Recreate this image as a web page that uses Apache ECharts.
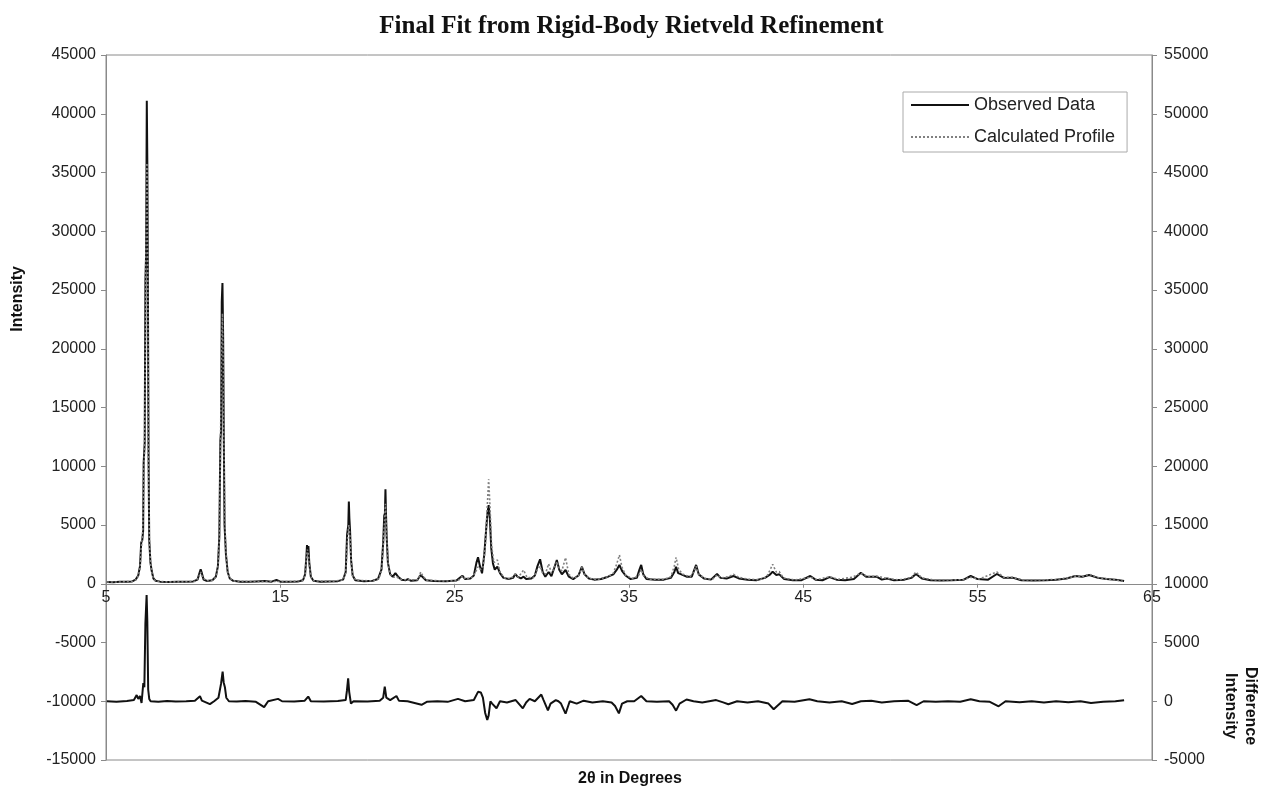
<!DOCTYPE html>
<html>
<head>
<meta charset="utf-8">
<script src="https://cdn.jsdelivr.net/npm/echarts@6/dist/echarts.min.js"></script>
<style>
html,body{margin:0;padding:0;background:#fff;}
#chart{width:1263px;height:789px;}
</style>
</head>
<body>
<div id="chart"></div>
<script>
// ---- data (2-theta in degrees, intensity) ----
var chartTitle = 'Final Fit from Rigid-Body Rietveld Refinement';
var seriesNames = ['Observed Data', 'Calculated Profile'];
var xTicks = [5, 15, 25, 35, 45, 55, 65];
var leftTicks = [-15000, 45000, 5000];
var rightTicks = [-5000, 55000, 5000];

var observed = [
[5.05,150],[5.4,130],[5.8,160],[6.2,170],[6.5,200],[6.7,350],[6.85,700],[6.95,1500],[7.02,3500],[7.08,3700],[7.13,4500],[7.16,10300],[7.22,12000],[7.26,25800],[7.3,28000],[7.34,41100],[7.37,36000],[7.4,27000],[7.44,11000],[7.48,3700],[7.55,1800],[7.62,1100],[7.72,450],[7.85,250],[8.1,180],[8.6,150],[9.1,160],[9.6,170],[10.0,200],[10.25,350],[10.38,1000],[10.43,1230],[10.5,900],[10.6,350],[10.8,230],[11.1,300],[11.3,600],[11.42,1500],[11.5,4000],[11.56,12200],[11.6,13000],[11.64,24000],[11.68,25600],[11.72,21000],[11.76,12000],[11.8,5000],[11.88,2500],[11.98,1000],[12.1,450],[12.3,250],[12.7,180],[13.2,170],[13.6,200],[14.1,230],[14.5,180],[14.78,320],[15.0,180],[15.5,170],[16.0,200],[16.3,300],[16.42,800],[16.49,2200],[16.53,3300],[16.57,2600],[16.61,3200],[16.66,1800],[16.75,600],[16.9,250],[17.3,180],[17.8,200],[18.3,220],[18.6,350],[18.75,1000],[18.83,4200],[18.9,5000],[18.93,6990],[18.96,5600],[19.0,4500],[19.06,2000],[19.15,700],[19.3,300],[19.8,220],[20.3,250],[20.6,400],[20.8,1200],[20.9,3500],[20.96,5800],[21.0,6000],[21.03,8040],[21.06,6000],[21.1,4000],[21.17,1800],[21.3,800],[21.45,600],[21.6,900],[21.66,1030],[21.75,600],[21.95,350],[22.2,300],[22.32,400],[22.5,250],[22.85,300],[23.05,745],[23.15,650],[23.35,300],[23.8,230],[24.5,220],[25.1,280],[25.44,685],[25.6,400],[25.9,450],[26.1,700],[26.25,1800],[26.34,2250],[26.45,1500],[26.57,890],[26.7,2500],[26.8,4500],[26.88,6000],[26.95,6700],[27.02,5500],[27.1,3000],[27.2,1700],[27.3,1200],[27.45,1450],[27.6,900],[27.8,500],[28.1,400],[28.35,500],[28.48,830],[28.6,600],[28.8,450],[28.95,600],[29.1,400],[29.4,450],[29.6,700],[29.75,1500],[29.9,2080],[30.05,1000],[30.2,600],[30.39,1000],[30.55,650],[30.7,1300],[30.86,2020],[31.0,1200],[31.15,800],[31.36,1170],[31.55,600],[31.8,400],[32.1,700],[32.3,1450],[32.45,800],[32.7,450],[33.0,350],[33.4,400],[33.8,600],[34.1,800],[34.3,1200],[34.45,1600],[34.6,1100],[34.8,700],[35.1,400],[35.45,500],[35.6,1200],[35.7,1600],[35.82,800],[36.0,400],[36.5,350],[37.0,350],[37.4,500],[37.6,1000],[37.7,1450],[37.82,900],[38.0,800],[38.3,600],[38.6,600],[38.75,1200],[38.85,1600],[39.0,800],[39.3,450],[39.7,350],[40.05,830],[40.25,500],[40.6,450],[41.0,660],[41.3,450],[41.8,350],[42.3,300],[42.8,500],[43.1,800],[43.24,1030],[43.45,750],[43.62,800],[43.9,400],[44.4,300],[44.9,300],[45.4,660],[45.7,350],[46.1,300],[46.5,560],[46.9,350],[47.4,300],[47.9,400],[48.3,940],[48.6,600],[49.2,600],[49.5,350],[49.8,450],[50.2,300],[50.8,350],[51.2,500],[51.46,830],[51.8,450],[52.3,300],[52.9,280],[53.5,300],[54.2,350],[54.6,660],[55.0,400],[55.6,350],[56.1,830],[56.5,500],[57.0,520],[57.5,300],[58.2,280],[58.9,300],[59.5,350],[60.1,450],[60.6,660],[61.0,600],[61.4,750],[61.9,500],[62.4,400],[62.9,350],[63.4,230]
];

var calculated = [
[5.05,150],[5.8,150],[6.5,200],[6.7,330],[6.85,650],[6.95,1300],[7.02,3000],[7.1,4200],[7.16,9000],[7.22,12000],[7.27,24000],[7.32,33000],[7.35,35800],[7.39,30000],[7.43,14000],[7.48,4000],[7.55,1800],[7.62,1000],[7.72,420],[7.85,230],[8.5,160],[9.5,160],[10.1,200],[10.3,500],[10.43,1000],[10.55,500],[10.8,250],[11.1,300],[11.3,550],[11.42,1400],[11.5,3800],[11.56,11000],[11.62,19000],[11.68,23000],[11.73,18000],[11.78,9000],[11.85,3500],[11.95,1200],[12.1,450],[12.4,220],[13.5,180],[14.5,190],[15.5,180],[16.3,280],[16.42,750],[16.5,2200],[16.55,2900],[16.6,2700],[16.66,1600],[16.76,550],[16.95,240],[18.0,210],[18.6,330],[18.75,900],[18.85,3800],[18.93,5000],[19.0,3900],[19.07,1700],[19.15,650],[19.35,280],[20.3,250],[20.65,420],[20.82,1200],[20.93,4000],[21.03,6800],[21.1,4000],[21.18,1700],[21.3,800],[21.5,550],[21.66,600],[21.85,400],[22.3,330],[22.9,350],[23.05,1000],[23.2,600],[23.4,300],[24.5,230],[25.2,260],[25.44,650],[25.65,380],[26.0,550],[26.2,1000],[26.34,1450],[26.5,1200],[26.62,1400],[26.75,3000],[26.85,6000],[26.95,8900],[27.03,6500],[27.12,3200],[27.25,1800],[27.45,2020],[27.6,1000],[27.85,500],[28.2,420],[28.48,800],[28.65,550],[28.95,1170],[29.15,550],[29.5,500],[29.75,1200],[29.9,1500],[30.05,900],[30.2,800],[30.39,1700],[30.55,900],[30.7,1300],[30.86,1900],[31.0,1300],[31.15,1100],[31.36,2220],[31.55,800],[31.8,450],[32.1,650],[32.3,1400],[32.45,800],[32.7,450],[33.2,380],[33.8,600],[34.1,900],[34.3,1700],[34.45,2450],[34.6,1400],[34.8,750],[35.2,420],[35.55,700],[35.7,1200],[35.85,650],[36.2,380],[37.0,380],[37.4,600],[37.6,1500],[37.7,2250],[37.85,1200],[38.1,800],[38.5,600],[38.75,1100],[38.85,1500],[39.0,800],[39.4,420],[39.8,400],[40.05,750],[40.3,500],[40.7,600],[41.0,800],[41.3,550],[41.8,400],[42.5,330],[42.9,600],[43.1,1200],[43.24,1650],[43.45,1000],[43.62,1030],[43.85,500],[44.5,320],[45.4,550],[45.8,350],[46.5,600],[47.0,380],[47.8,550],[48.3,900],[48.7,600],[49.2,650],[49.8,450],[50.5,330],[51.2,550],[51.46,1000],[51.8,500],[52.5,320],[53.5,320],[54.2,350],[54.6,550],[55.1,400],[56.1,1000],[56.5,550],[57.0,550],[57.6,320],[58.8,320],[59.6,380],[60.2,500],[60.6,650],[61.0,620],[61.4,800],[61.9,520],[62.6,380],[63.4,200]
];

var difference = [
[5.05,0],[5.6,-50],[6.2,30],[6.6,100],[6.76,530],[6.85,200],[6.95,450],[7.04,-150],[7.14,1550],[7.2,1200],[7.26,6630],[7.33,9040],[7.37,6800],[7.42,1000],[7.48,200],[7.56,0],[8.0,-50],[8.5,20],[9.0,-30],[9.6,0],[10.1,50],[10.39,430],[10.5,50],[10.96,-250],[11.2,0],[11.45,300],[11.6,1500],[11.69,2520],[11.75,1600],[11.82,1200],[11.9,300],[12.05,0],[12.5,-30],[13.0,20],[13.6,-50],[14.07,-500],[14.3,0],[14.87,200],[15.1,0],[15.8,-30],[16.4,50],[16.6,400],[16.75,0],[17.5,-20],[18.3,30],[18.75,100],[18.82,900],[18.89,1950],[18.95,800],[19.05,-200],[19.2,0],[20.0,-30],[20.7,50],[20.9,300],[20.99,1240],[21.08,300],[21.3,100],[21.66,450],[21.8,50],[22.3,0],[23.1,-300],[23.4,-50],[24.0,0],[24.6,-50],[25.19,200],[25.6,0],[26.1,100],[26.34,800],[26.5,750],[26.62,300],[26.75,-1000],[26.87,-1600],[26.95,-1200],[27.05,0],[27.15,-200],[27.4,-600],[27.6,0],[28.0,-100],[28.5,100],[28.91,-600],[29.1,-100],[29.3,200],[29.6,0],[29.97,570],[30.1,100],[30.35,-770],[30.5,-200],[30.8,100],[30.95,0],[31.1,-200],[31.36,-1060],[31.6,0],[32.0,-200],[32.4,50],[32.9,-100],[33.5,0],[34.0,-100],[34.2,-400],[34.42,-1030],[34.6,-200],[34.9,0],[35.3,0],[35.7,450],[36.0,0],[36.6,-50],[37.3,0],[37.5,-300],[37.7,-800],[37.9,-200],[38.3,150],[38.7,0],[39.2,-100],[39.6,0],[40.0,100],[40.4,-100],[40.7,-250],[41.2,0],[41.8,-100],[42.4,0],[43.0,-200],[43.3,-680],[43.5,-400],[43.8,0],[44.5,-50],[45.35,170],[45.8,0],[46.5,-100],[47.2,0],[47.8,-230],[48.3,0],[48.9,50],[49.5,-100],[50.2,0],[51.0,50],[51.5,-330],[51.9,0],[52.6,-50],[53.3,0],[54.0,-50],[54.6,170],[55.1,0],[55.7,-50],[56.2,-430],[56.6,0],[57.4,-80],[58.1,0],[58.8,-100],[59.5,0],[60.2,-80],[60.9,0],[61.5,-150],[62.2,-50],[62.9,0],[63.4,80]
];

var chart = echarts.init(document.getElementById('chart'), null, {renderer: 'canvas'});
var axisGray = '#8a8a8a';
var txt = '#222';
var sans = 'Liberation Sans, Arial, sans-serif';
var gridTop = 55, gridBottom = 29, H = 789;
var plotH = H - gridTop - gridBottom;
// distance from the bottom of the plot up to the left axis zero (so the x axis sits on y = 0)
var zeroOffset = plotH * (0 - leftTicks[0]) / (leftTicks[1] - leftTicks[0]);
var plain = function (v) { return String(v); };
var transparent = 'rgba(0,0,0,0)';

chart.setOption({
  animation: false,
  backgroundColor: '#fff',
  title: {
    text: chartTitle,
    left: 'center',
    top: 9,
    textStyle: {fontFamily: 'Liberation Serif, Times New Roman, serif', fontWeight: 'bold', fontSize: 25, color: '#111'}
  },
  legend: {
    data: seriesNames,
    orient: 'vertical',
    left: 903,
    top: 92,
    padding: [4, 12, 6, 7],
    itemWidth: 58,
    itemHeight: 14,
    itemGap: 14,
    backgroundColor: '#fff',
    borderColor: '#aaa',
    borderWidth: 1,
    borderRadius: 0,
    textStyle: {fontFamily: sans, fontSize: 18, color: txt}
  },
  grid: {
    left: 106, right: 111, top: gridTop, bottom: gridBottom,
    show: true, borderColor: axisGray, borderWidth: 1, backgroundColor: 'transparent'
  },
  xAxis: {
    type: 'value',
    min: xTicks[0], max: xTicks[xTicks.length - 1], interval: 10,
    position: 'bottom',
    offset: -zeroOffset,
    axisLine: {show: true, onZero: false, lineStyle: {color: axisGray, width: 1}},
    axisTick: {show: true, length: 4, lineStyle: {color: axisGray}},
    axisLabel: {fontFamily: sans, fontSize: 16, color: txt, margin: 6, showMinLabel: true, showMaxLabel: true, formatter: plain},
    splitLine: {show: false}
  },
  yAxis: [
    {
      type: 'value', position: 'left',
      min: leftTicks[0], max: leftTicks[1], interval: leftTicks[2],
      axisLine: {show: true, onZero: false, lineStyle: {color: axisGray}},
      axisTick: {show: true, length: 5, lineStyle: {color: axisGray}},
      axisLabel: {fontFamily: sans, fontSize: 16, color: txt, margin: 10, formatter: plain},
      splitLine: {show: false}
    },
    {
      type: 'value', position: 'right',
      min: rightTicks[0], max: rightTicks[1], interval: rightTicks[2],
      axisLine: {show: true, onZero: false, lineStyle: {color: axisGray}},
      axisTick: {show: true, length: 5, lineStyle: {color: axisGray}},
      axisLabel: {fontFamily: sans, fontSize: 16, color: txt, margin: 12, formatter: plain},
      splitLine: {show: false}
    }
  ],
  graphic: [
    {type: 'text', left: 10, top: 300 - 34, rotation: Math.PI / 2,
     style: {text: 'Intensity', font: 'bold 16px ' + sans, fill: '#111'}},
    {type: 'text', x: 630, y: 779,
     style: {text: '2θ in Degrees', font: 'bold 16px ' + sans, fill: '#111', align: 'center', verticalAlign: 'middle'}},
    {type: 'text', x: 1240, y: 706, rotation: -Math.PI / 2,
     style: {text: 'Difference\nIntensity', font: 'bold 16px ' + sans, fill: '#111', align: 'center', verticalAlign: 'middle', lineHeight: 20}}
  ],
  series: [
    {
      name: seriesNames[0], type: 'line', data: observed, yAxisIndex: 0,
      showSymbol: false, symbol: 'none',
      lineStyle: {color: '#111', width: 2, type: 'solid'},
      itemStyle: {color: transparent, borderColor: transparent}, z: 2
    },
    {
      name: seriesNames[1], type: 'line', data: calculated, yAxisIndex: 0,
      showSymbol: false, symbol: 'none',
      lineStyle: {color: '#808080', width: 1.6, type: [2, 2]},
      itemStyle: {color: transparent, borderColor: transparent}, z: 3
    },
    {
      name: 'Difference', type: 'line', data: difference, yAxisIndex: 1,
      showSymbol: false, symbol: 'none',
      lineStyle: {color: '#111', width: 2},
      itemStyle: {color: '#111'}, z: 2
    }
  ]
});
</script>
</body>
</html>
